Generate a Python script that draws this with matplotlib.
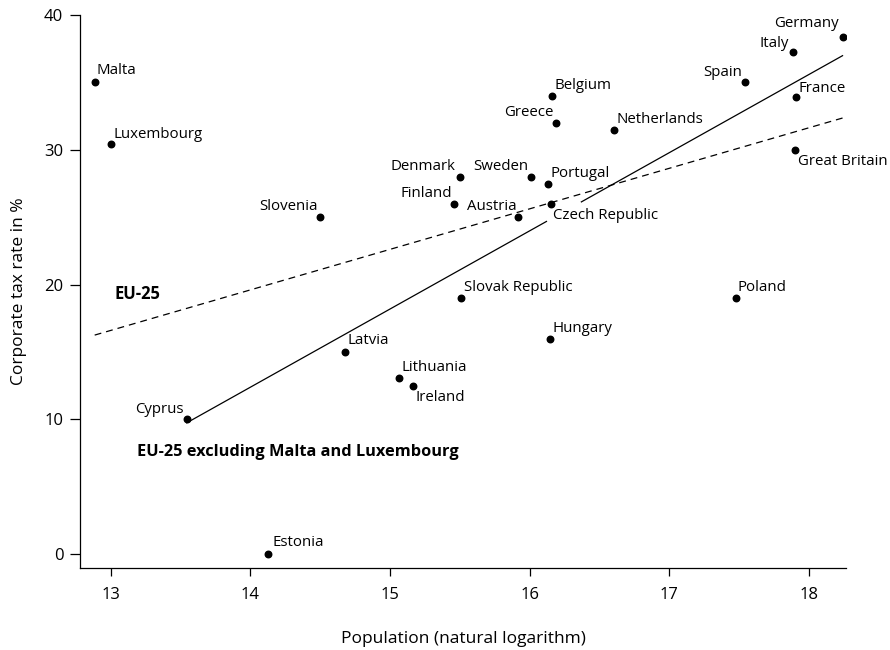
import matplotlib
matplotlib.use('Agg')
import matplotlib.pyplot as plt
import numpy as np

plt.rcParams['font.family'] = ['Open Sans', 'DejaVu Sans']

# Corporate tax rate vs. log population, EU-25
countries = ['Malta', 'Luxembourg', 'Slovenia', 'Cyprus', 'Estonia', 'Latvia',
             'Lithuania', 'Ireland', 'Slovak Republic', 'Hungary', 'Poland',
             'Denmark', 'Finland', 'Austria', 'Sweden', 'Portugal',
             'Czech Republic', 'Belgium', 'Greece', 'Netherlands', 'Spain',
             'Italy', 'Germany', 'France', 'Great Britain']
log_pop = [12.885, 13.00, 14.50, 13.544, 14.125, 14.676,
           15.063, 15.163, 15.507, 16.145, 17.477,
           15.50, 15.46, 15.915, 16.01, 16.13,
           16.15, 16.16, 16.19, 16.60, 17.54,
           17.885, 18.24, 17.905, 17.90]
tax_rate = [35.0, 30.4, 25.0, 10.0, 0.0, 15.0,
            13.1, 12.5, 19.0, 16.0, 19.0,
            28.0, 26.0, 25.0, 28.0, 27.5,
            26.0, 34.0, 32.0, 31.5, 35.0,
            37.25, 38.4, 33.9, 30.0]

# label placement: (ha, va, dx, dy) in points
placement = {
    'Malta': ('left', 'bottom', 1, 3), 'Luxembourg': ('left', 'bottom', 2, 2),
    'Slovenia': ('right', 'bottom', -2, 2), 'Cyprus': ('right', 'bottom', -2, 2),
    'Estonia': ('left', 'bottom', 3, 3), 'Latvia': ('left', 'bottom', 2, 3),
    'Lithuania': ('left', 'bottom', 2, 2), 'Ireland': ('left', 'top', 2, -3),
    'Slovak Republic': ('left', 'bottom', 2, 2), 'Hungary': ('left', 'bottom', 2, 2),
    'Poland': ('left', 'bottom', 1, 2), 'Denmark': ('right', 'bottom', -3, 2),
    'Finland': ('right', 'bottom', -2, 2), 'Austria': ('right', 'bottom', -1, 2),
    'Sweden': ('right', 'bottom', -2, 2), 'Portugal': ('left', 'bottom', 2, 2),
    'Czech Republic': ('left', 'top', 2, -3), 'Belgium': ('left', 'bottom', 2, 2),
    'Greece': ('right', 'bottom', -2, 2), 'Netherlands': ('left', 'bottom', 2, 2),
    'Spain': ('right', 'bottom', -2, 2), 'Italy': ('right', 'bottom', -3, 1),
    'Germany': ('right', 'bottom', -3, 4), 'France': ('left', 'bottom', 2, 1),
    'Great Britain': ('left', 'top', 2, -3),
}

x = np.array(log_pop)
y = np.array(tax_rate)

fig = plt.figure(figsize=(8.9, 6.5), dpi=100)
ax = fig.add_axes([0.0899, 0.1262, 0.8607, 0.8507])

ax.scatter(x, y, s=22, color='black', zorder=3)
for name, xi, yi in zip(countries, x, y):
    ha, va, dx, dy = placement[name]
    ax.annotate(name, (xi, yi), xytext=(dx, dy), textcoords='offset points',
                ha=ha, va=va, fontsize=10.8, annotation_clip=False)

# fit lines: all countries (dashed) and without Malta/Luxembourg (solid)
b_all = np.polyfit(x, y, 1)
xs = np.linspace(x.min(), x.max(), 200)
ax.plot(xs, np.polyval(b_all, xs), color='black', lw=0.9, ls=(0, (5.5, 4)))

mask = ~np.isin(countries, ['Malta', 'Luxembourg'])
b_sub = np.polyfit(x[mask], y[mask], 1)
x0, x1 = x[mask].min(), x[mask].max()
for a, b in [(x0, 16.12), (16.37, x1)]:
    seg = np.array([a, b])
    ax.plot(seg, np.polyval(b_sub, seg), color='black', lw=0.9)

ax.text(13.03, 19.3, 'EU-25', fontsize=12, fontweight='bold', ha='left', va='center')
ax.text(13.19, 7.6, 'EU-25 excluding Malta and Luxembourg', fontsize=11.8,
        fontweight='bold', ha='left', va='center')

ax.set_xlim(12.78, 18.265)
ax.set_ylim(-1.02, 40)
ax.set_xticks([13, 14, 15, 16, 17, 18])
ax.set_yticks([0, 10, 20, 30, 40])
ax.spines['top'].set_visible(False)
ax.spines['right'].set_visible(False)
ax.spines['left'].set_bounds(-1.02, 40)
ax.tick_params(direction='out', width=0.9, labelsize=12)
ax.tick_params(axis='y', length=7, pad=5)
ax.tick_params(axis='x', length=6, pad=8)
for s in ['left', 'bottom']:
    ax.spines[s].set_linewidth(0.9)

ax.set_xlabel('Population (natural logarithm)', fontsize=12.5, labelpad=20)
ax.set_ylabel('Corporate tax rate in %', fontsize=12.5, labelpad=12)

fig.savefig('out.png', dpi=100, facecolor='white')
